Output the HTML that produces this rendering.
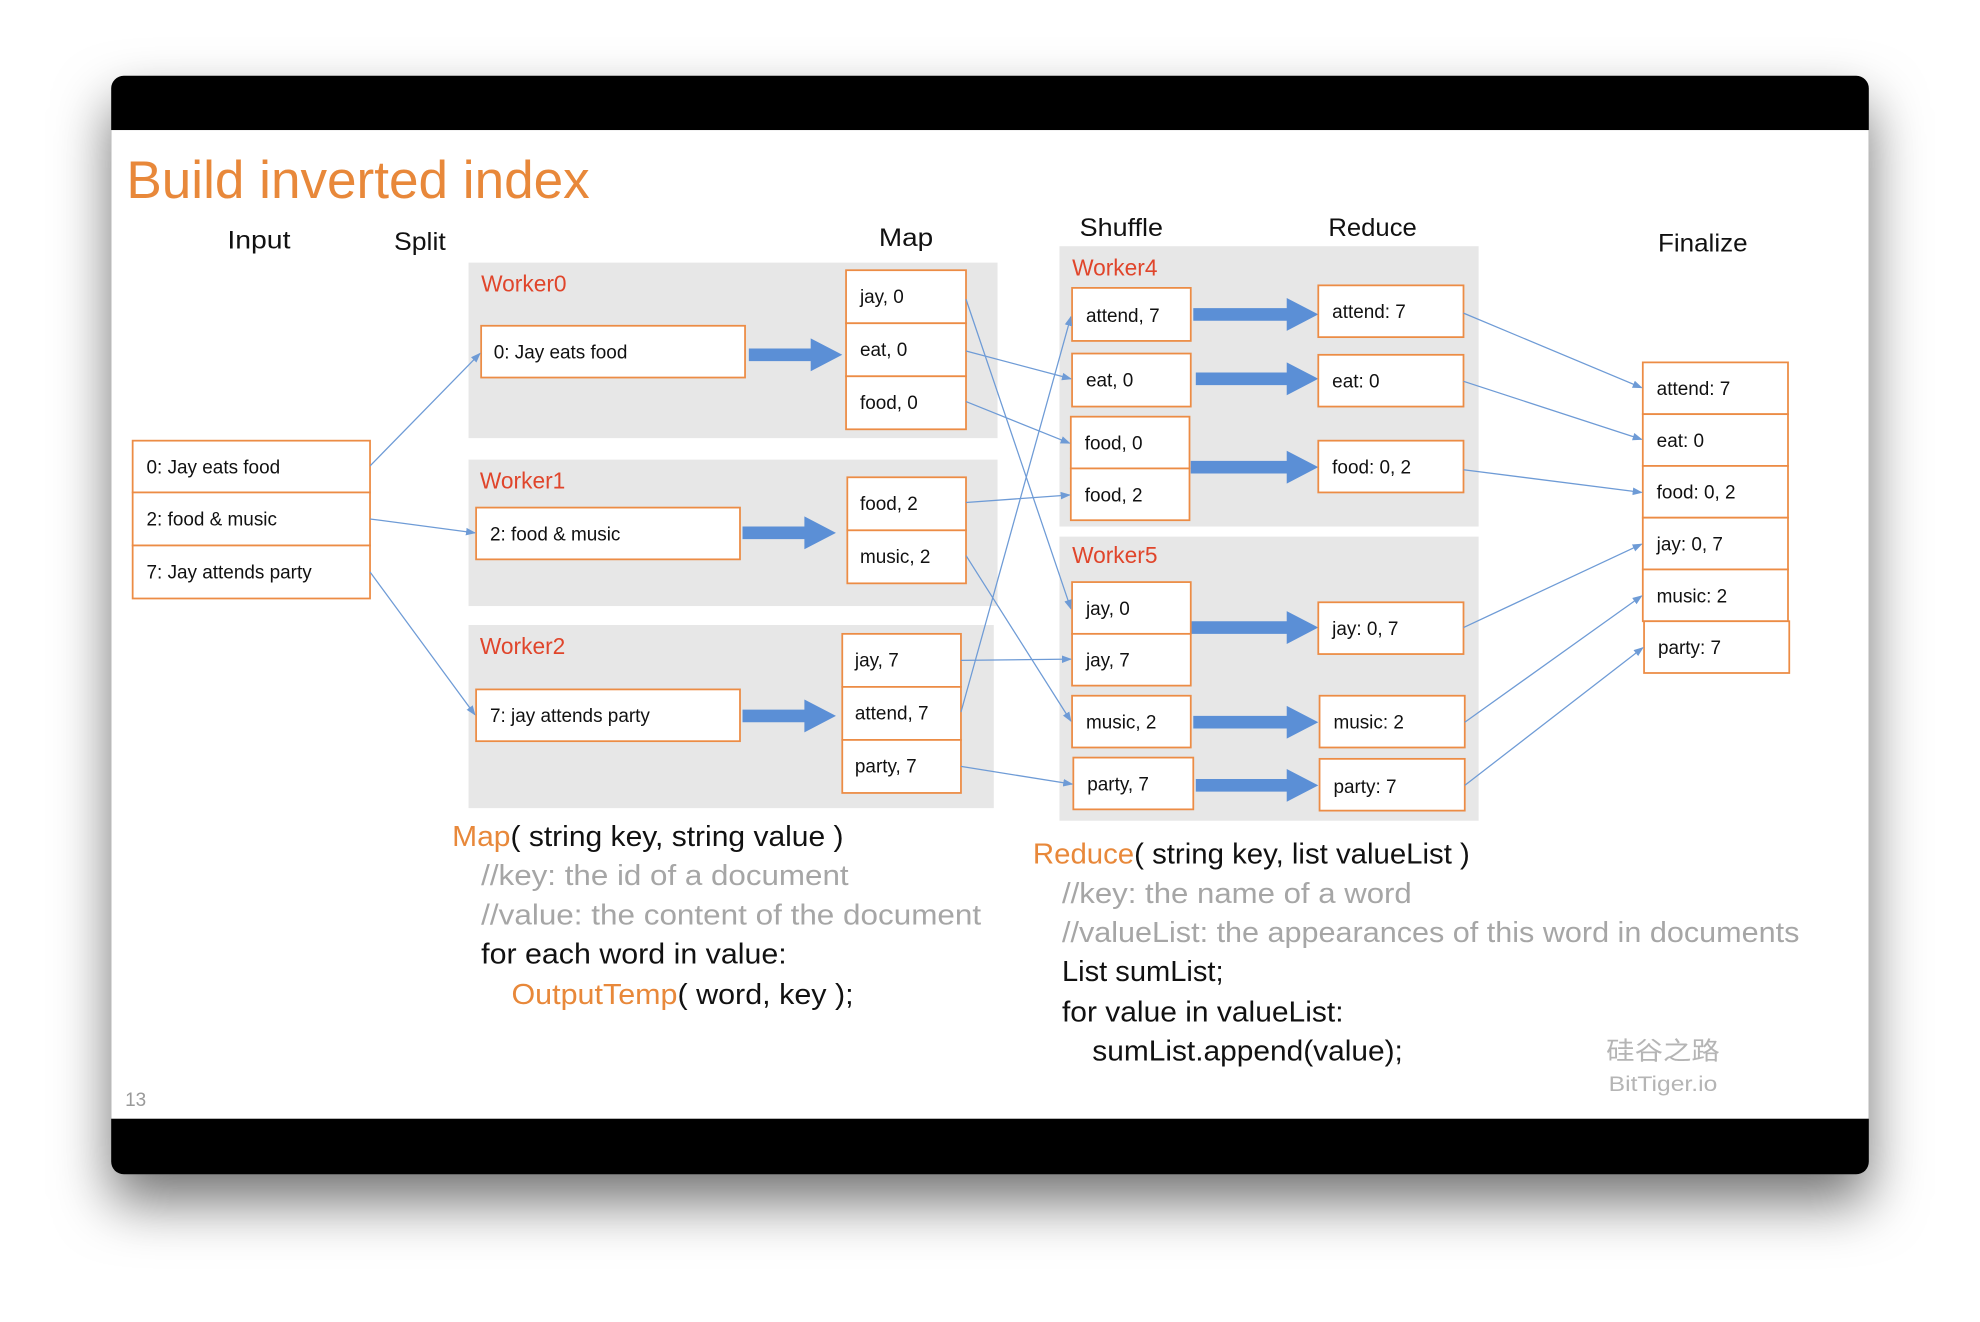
<!DOCTYPE html>
<html><head><meta charset="utf-8"><style>
html,body{margin:0;padding:0;background:#fff;width:1980px;height:1322px;overflow:hidden}
svg{display:block}
text{font-family:"Liberation Sans","Noto Sans CJK SC",sans-serif}
.bx{fill:#fff;stroke:#EC8C45;stroke-width:1.4}
.gp{fill:#E7E7E7}
.t{font-size:15px;fill:#111}
.h{font-size:20px;fill:#111}
.w{font-size:18px;fill:#E0452B}
.ln{stroke:#6E9BD6;stroke-width:1;fill:none;marker-end:url(#ah)}
.ba{fill:#5B8FD6}
.c{font-size:23px;fill:#111}
.g{font-size:23px;fill:#A6A6A6}
.o{fill:#E8883A}
</style></head><body>
<svg width="1980" height="1322" viewBox="0 0 1568 1047" xmlns="http://www.w3.org/2000/svg">
<defs>
<marker id="ah" markerWidth="8" markerHeight="8" refX="7" refY="4" orient="auto" markerUnits="userSpaceOnUse">
<path d="M0,1 L8,4 L0,7 z" fill="#6E9BD6"/></marker>
<filter id="sh" x="-10%" y="-10%" width="120%" height="130%">
<feDropShadow dx="0" dy="22" stdDeviation="22" flood-color="#000" flood-opacity="0.55"/></filter>
</defs>
<rect x="88" y="60" width="1392" height="870" rx="10" fill="#000" filter="url(#sh)"/>
<rect x="88" y="103" width="1392" height="783" fill="#fff"/>
<text x="100" y="157" font-size="42" fill="#E8883A" textLength="367" lengthAdjust="spacingAndGlyphs">Build inverted index</text>
<text class="h" x="180" y="197" textLength="50" lengthAdjust="spacingAndGlyphs">Input</text>
<text class="h" x="312" y="198" textLength="41" lengthAdjust="spacingAndGlyphs">Split</text>
<text class="h" x="696" y="195" textLength="43" lengthAdjust="spacingAndGlyphs">Map</text>
<text class="h" x="855" y="187" textLength="66" lengthAdjust="spacingAndGlyphs">Shuffle</text>
<text class="h" x="1052" y="187" textLength="70" lengthAdjust="spacingAndGlyphs">Reduce</text>
<text class="h" x="1313" y="199" textLength="71" lengthAdjust="spacingAndGlyphs">Finalize</text>

<rect class="gp" x="371" y="208" width="419" height="139"/>
<rect class="gp" x="371" y="364" width="419" height="116"/>
<rect class="gp" x="371" y="495" width="416" height="145"/>
<rect class="gp" x="839" y="195" width="332" height="222"/>
<rect class="gp" x="839" y="425" width="332" height="225"/>
<text class="w" x="381" y="231">Worker0</text>
<text class="w" x="380" y="387">Worker1</text>
<text class="w" x="380" y="518">Worker2</text>
<text class="w" x="849" y="218">Worker4</text>
<text class="w" x="849" y="446">Worker5</text>

<rect class="bx" x="105" y="349" width="188" height="41"/><text class="t" x="116" y="375">0: Jay eats food</text>
<rect class="bx" x="105" y="390" width="188" height="42"/><text class="t" x="116" y="416">2: food &amp; music</text>
<rect class="bx" x="105" y="432" width="188" height="42"/><text class="t" x="116" y="458">7: Jay attends party</text>
<rect class="bx" x="381" y="258" width="209" height="41"/><text class="t" x="391" y="284">0: Jay eats food</text>
<rect class="bx" x="377" y="402" width="209" height="41"/><text class="t" x="388" y="428">2: food &amp; music</text>
<rect class="bx" x="377" y="546" width="209" height="41"/><text class="t" x="388" y="572">7: jay attends party</text>
<g class="ba">
<polygon points="593,276 642,276 642,268 667,281 642,294 642,286 593,286"/>
<polygon points="588,417 637,417 637,409 662,422 637,435 637,427 588,427"/>
<polygon points="588,562 637,562 637,554 662,567 637,580 637,572 588,572"/>
<polygon points="945,244 1019,244 1019,236 1044,249 1019,262 1019,254 945,254"/>
<polygon points="947,295 1019,295 1019,287 1044,300 1019,313 1019,305 947,305"/>
<polygon points="943,365 1019,365 1019,357 1044,370 1019,383 1019,375 943,375"/>
<polygon points="943,492 1019,492 1019,484 1044,497 1019,510 1019,502 943,502"/>
<polygon points="945,567 1019,567 1019,559 1044,572 1019,585 1019,577 945,577"/>
<polygon points="947,617 1019,617 1019,609 1044,622 1019,635 1019,627 947,627"/>
</g>
<rect class="bx" x="670" y="214" width="95" height="42"/><text class="t" x="681" y="240">jay, 0</text>
<rect class="bx" x="670" y="256" width="95" height="42"/><text class="t" x="681" y="282">eat, 0</text>
<rect class="bx" x="670" y="298" width="95" height="42"/><text class="t" x="681" y="324">food, 0</text>
<rect class="bx" x="671" y="378" width="94" height="42"/><text class="t" x="681" y="404">food, 2</text>
<rect class="bx" x="671" y="420" width="94" height="42"/><text class="t" x="681" y="446">music, 2</text>
<rect class="bx" x="667" y="502" width="94" height="42"/><text class="t" x="677" y="528">jay, 7</text>
<rect class="bx" x="667" y="544" width="94" height="42"/><text class="t" x="677" y="570">attend, 7</text>
<rect class="bx" x="667" y="586" width="94" height="42"/><text class="t" x="677" y="612">party, 7</text>
<rect class="bx" x="849" y="228" width="94" height="42"/><text class="t" x="860" y="255">attend, 7</text>
<rect class="bx" x="849" y="280" width="94" height="42"/><text class="t" x="860" y="306">eat, 0</text>
<rect class="bx" x="848" y="330" width="94" height="41"/><text class="t" x="859" y="356">food, 0</text>
<rect class="bx" x="848" y="371" width="94" height="41"/><text class="t" x="859" y="397">food, 2</text>
<rect class="bx" x="849" y="461" width="94" height="41"/><text class="t" x="860" y="487">jay, 0</text>
<rect class="bx" x="849" y="502" width="94" height="41"/><text class="t" x="860" y="528">jay, 7</text>
<rect class="bx" x="849" y="551" width="94" height="41"/><text class="t" x="860" y="577">music, 2</text>
<rect class="bx" x="850" y="600" width="95" height="41"/><text class="t" x="861" y="626">party, 7</text>
<rect class="bx" x="1044" y="226" width="115" height="41"/><text class="t" x="1055" y="252">attend: 7</text>
<rect class="bx" x="1044" y="281" width="115" height="41"/><text class="t" x="1055" y="307">eat: 0</text>
<rect class="bx" x="1044" y="349" width="115" height="41"/><text class="t" x="1055" y="375">food: 0, 2</text>
<rect class="bx" x="1044" y="477" width="115" height="41"/><text class="t" x="1055" y="503">jay: 0, 7</text>
<rect class="bx" x="1045" y="551" width="115" height="41"/><text class="t" x="1056" y="577">music: 2</text>
<rect class="bx" x="1045" y="601" width="115" height="41"/><text class="t" x="1056" y="628">party: 7</text>
<rect class="bx" x="1301" y="287" width="115" height="41"/><text class="t" x="1312" y="313">attend: 7</text>
<rect class="bx" x="1301" y="328" width="115" height="41"/><text class="t" x="1312" y="354">eat: 0</text>
<rect class="bx" x="1301" y="369" width="115" height="41"/><text class="t" x="1312" y="395">food: 0, 2</text>
<rect class="bx" x="1301" y="410" width="115" height="41"/><text class="t" x="1312" y="436">jay: 0, 7</text>
<rect class="bx" x="1301" y="451" width="115" height="41"/><text class="t" x="1312" y="477">music: 2</text>
<rect class="bx" x="1302" y="492" width="115" height="41"/><text class="t" x="1313" y="518">party: 7</text>

<line class="ln" x1="293" y1="369" x2="380" y2="280"/>
<line class="ln" x1="293" y1="411" x2="376" y2="422"/>
<line class="ln" x1="293" y1="453" x2="376" y2="566"/>
<line class="ln" x1="765" y1="237" x2="848" y2="482"/>
<line class="ln" x1="765" y1="278" x2="848" y2="300"/>
<line class="ln" x1="765" y1="318" x2="847" y2="351"/>
<line class="ln" x1="765" y1="398" x2="847" y2="392"/>
<line class="ln" x1="765" y1="440" x2="848" y2="571"/>
<line class="ln" x1="761" y1="523" x2="848" y2="522"/>
<line class="ln" x1="761" y1="564" x2="848" y2="251"/>
<line class="ln" x1="761" y1="607" x2="849" y2="621"/>
<line class="ln" x1="1159" y1="248" x2="1300" y2="307"/>
<line class="ln" x1="1159" y1="302" x2="1300" y2="348"/>
<line class="ln" x1="1159" y1="372" x2="1300" y2="390"/>
<line class="ln" x1="1159" y1="497" x2="1300" y2="431"/>
<line class="ln" x1="1160" y1="572" x2="1300" y2="472"/>
<line class="ln" x1="1160" y1="622" x2="1301" y2="513"/>

<text class="c" x="358" y="670" textLength="310" lengthAdjust="spacingAndGlyphs"><tspan class="o">Map</tspan>( string key, string value )</text>
<text class="g" x="381" y="701" textLength="291" lengthAdjust="spacingAndGlyphs">//key: the id of a document</text>
<text class="g" x="381" y="732" textLength="396" lengthAdjust="spacingAndGlyphs">//value: the content of the document</text>
<text class="c" x="381" y="763" textLength="242" lengthAdjust="spacingAndGlyphs">for each word in value:</text>
<text class="c" x="405" y="795" textLength="271" lengthAdjust="spacingAndGlyphs"><tspan class="o">OutputTemp</tspan>( word, key );</text>

<text class="c" x="818" y="684" textLength="346" lengthAdjust="spacingAndGlyphs"><tspan class="o">Reduce</tspan>( string key, list valueList )</text>
<text class="g" x="841" y="715" textLength="277" lengthAdjust="spacingAndGlyphs">//key: the name of a word</text>
<text class="g" x="841" y="746" textLength="584" lengthAdjust="spacingAndGlyphs">//valueList: the appearances of this word in documents</text>
<text class="c" x="841" y="777" textLength="128" lengthAdjust="spacingAndGlyphs">List sumList;</text>
<text class="c" x="841" y="809" textLength="223" lengthAdjust="spacingAndGlyphs">for value in valueList:</text>
<text class="c" x="865" y="840" textLength="246" lengthAdjust="spacingAndGlyphs">sumList.append(value);</text>

<text x="1272" y="839" font-size="20" fill="#B5B5B5" font-family="Noto Serif CJK SC, serif" textLength="90" lengthAdjust="spacingAndGlyphs">硅谷之路</text>
<text x="1274" y="864" font-size="17" fill="#B5B5B5" font-family="Liberation Serif, serif" textLength="86" lengthAdjust="spacingAndGlyphs">BitTiger.io</text>
<text x="99" y="876" font-size="15" fill="#999">13</text>
</svg>
</body></html>
